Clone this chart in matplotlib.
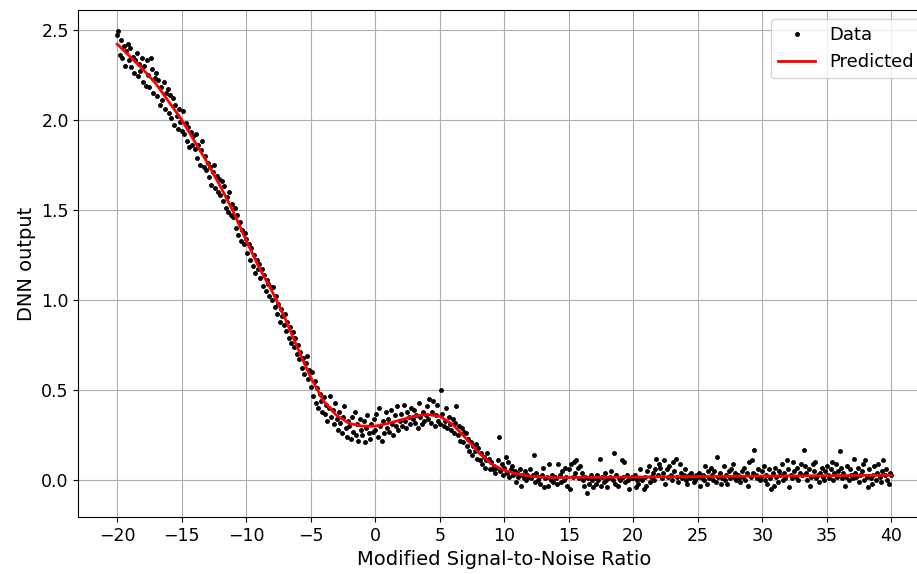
import numpy as np
import matplotlib.pyplot as plt

plt.rcParams['font.size'] = 13
plt.rcParams['xtick.labelsize'] = 12.5
plt.rcParams['ytick.labelsize'] = 12.5
plt.rcParams['axes.labelsize'] = 14

# measured DNN output, one sample every 0.1 dB from -20 to 40
snr = np.linspace(-20, 40, 601)
dnn_out = [
    2.47, 2.49, 2.36, 2.44, 2.34, 2.41, 2.30, 2.38, 2.42, 2.33,
    2.40, 2.29, 2.35, 2.26, 2.33, 2.37, 2.24, 2.31, 2.27, 2.34,
    2.21, 2.30, 2.19, 2.33, 2.25, 2.18, 2.34, 2.28, 2.15, 2.23,
    2.26, 2.13, 2.22, 2.08, 2.18, 2.11, 2.21, 2.06, 2.15, 2.17,
    2.04, 2.14, 2.01, 2.12, 1.97, 2.08, 2.02, 1.95, 2.06, 1.99,
    1.94, 2.05, 1.92, 1.98, 1.88, 1.96, 1.85, 1.93, 1.86, 1.91,
    1.84, 1.92, 1.79, 1.86, 1.75, 1.83, 1.88, 1.74, 1.80, 1.72,
    1.76, 1.68, 1.74, 1.64, 1.71, 1.75, 1.62, 1.69, 1.60, 1.67,
    1.58, 1.66, 1.55, 1.63, 1.51, 1.57, 1.49, 1.60, 1.47, 1.53,
    1.46, 1.51, 1.40, 1.47, 1.36, 1.43, 1.33, 1.39, 1.31, 1.37,
    1.34, 1.26, 1.31, 1.22, 1.29, 1.19, 1.25, 1.15, 1.22, 1.17,
    1.20, 1.12, 1.17, 1.08, 1.14, 1.05, 1.11, 1.09, 1.02, 1.07,
    1.00, 1.07, 0.96, 1.02, 0.92, 0.98, 0.88, 0.95, 0.91, 0.86,
    0.92, 0.83, 0.88, 0.79, 0.85, 0.76, 0.82, 0.74, 0.79, 0.70,
    0.75, 0.67, 0.71, 0.62, 0.68, 0.59, 0.65, 0.69, 0.56, 0.61,
    0.52, 0.60, 0.47, 0.55, 0.43, 0.51, 0.40, 0.48, 0.44, 0.38,
    0.46, 0.37, 0.42, 0.33, 0.40, 0.47, 0.35, 0.39, 0.31, 0.43,
    0.34, 0.28, 0.38, 0.32, 0.26, 0.35, 0.41, 0.29, 0.24, 0.33,
    0.30, 0.23, 0.35, 0.27, 0.38, 0.25, 0.31, 0.22, 0.34, 0.28,
    0.25, 0.33, 0.21, 0.29, 0.36, 0.26, 0.23, 0.31, 0.27, 0.34,
    0.28, 0.37, 0.24, 0.40, 0.30, 0.22, 0.33, 0.26, 0.38, 0.29,
    0.34, 0.27, 0.39, 0.31, 0.25, 0.36, 0.30, 0.41, 0.28, 0.33,
    0.37, 0.30, 0.42, 0.33, 0.29, 0.38, 0.35, 0.31, 0.40, 0.34,
    0.39, 0.32, 0.36, 0.29, 0.43, 0.35, 0.31, 0.38, 0.33, 0.36,
    0.41, 0.34, 0.45, 0.32, 0.38, 0.44, 0.30, 0.36, 0.42, 0.33,
    0.31, 0.50, 0.37, 0.30, 0.33, 0.40, 0.29, 0.35, 0.31, 0.28,
    0.34, 0.26, 0.32, 0.41, 0.25, 0.30, 0.22, 0.29, 0.21, 0.27,
    0.26, 0.19, 0.23, 0.16, 0.21, 0.14, 0.19, 0.16, 0.20, 0.12,
    0.18, 0.11, 0.15, 0.09, 0.13, 0.07, 0.11, 0.15, 0.12, 0.06,
    0.10, 0.06, 0.08, 0.04, 0.07, 0.11, 0.24, 0.05, 0.09, 0.03,
    0.07, 0.13, 0.04, 0.10, 0.02, 0.06, 0.08, 0.03, 0.05, -0.01,
    0.04, 0.02, 0.06, -0.03, 0.03, 0.01, 0.05, 0.00, 0.03, 0.02,
    0.06, 0.01, 0.03, 0.14, -0.01, 0.04, 0.00, 0.02, -0.02, 0.03,
    0.07, -0.04, 0.01, 0.02, -0.03, 0.09, 0.00, 0.03, -0.01, 0.02,
    0.01, -0.02, 0.09, 0.03, -0.01, 0.05, 0.00, 0.07, 0.02, -0.03,
    0.06, -0.05, 0.09, 0.02, 0.10, 0.04, 0.11, 0.07, 0.01, 0.08,
    0.04, 0.00, -0.03, 0.02, -0.07, 0.01, -0.02, 0.03, 0.00, -0.04,
    0.01, -0.02, 0.03, 0.00, 0.12, -0.03, 0.02, -0.01, 0.04, 0.00,
    -0.04, 0.01, 0.02, 0.05, 0.00, 0.15, -0.02, 0.03, -0.03, 0.01,
    0.00, 0.11, 0.02, 0.10, -0.01, 0.03, 0.00, -0.05, 0.01, 0.02,
    0.01, 0.03, -0.04, 0.00, -0.02, 0.06, 0.01, 0.00, -0.05, 0.02,
    -0.03, 0.05, 0.08, -0.01, 0.02, 0.04, 0.00, 0.06, 0.12, 0.03,
    0.09, 0.07, 0.01, 0.04, 0.11, -0.02, 0.06, 0.02, 0.08, 0.03,
    0.00, 0.10, 0.05, 0.12, 0.02, -0.01, 0.09, 0.04, 0.01, 0.03,
    0.06, 0.00, -0.02, 0.03, 0.01, 0.04, 0.02, -0.01, 0.00, 0.03,
    0.02, 0.04, -0.03, 0.01, 0.03, 0.00, 0.08, -0.02, 0.05, 0.01,
    0.07, 0.03, 0.00, 0.05, -0.01, 0.13, 0.02, 0.04, -0.02, 0.01,
    0.08, 0.00, 0.03, -0.02, 0.05, 0.01, 0.06, 0.09, 0.02, 0.04,
    0.00, 0.03, 0.01, -0.01, 0.05, 0.02, 0.07, 0.00, 0.04, -0.03,
    0.10, 0.02, 0.11, 0.04, 0.17, 0.03, 0.01, 0.06, 0.00, 0.02,
    0.05, 0.08, 0.00, 0.03, -0.02, 0.06, 0.01, -0.05, 0.04, -0.03,
    0.07, 0.02, -0.01, 0.05, 0.03, 0.09, 0.00, 0.04, 0.01, 0.11,
    0.06, -0.04, 0.03, 0.01, 0.10, 0.05, 0.02, 0.07, 0.00, 0.04,
    0.09, 0.03, 0.17, 0.08, 0.04, 0.00, 0.06, -0.03, 0.02, 0.09,
    0.05, 0.10, 0.01, 0.03, -0.01, 0.04, 0.07, 0.02, 0.00, 0.05,
    0.08, 0.03, 0.01, 0.06, 0.10, 0.00, 0.04, 0.09, 0.02, 0.05,
    0.16, 0.07, 0.01, 0.04, -0.03, 0.02, 0.08, 0.00, 0.06, 0.03,
    0.01, 0.12, 0.04, 0.02, 0.07, -0.01, 0.03, 0.05, 0.09, 0.00,
    0.11, 0.02, -0.04, 0.06, 0.01, -0.02, 0.03, 0.08, 0.00, 0.04,
    0.09, 0.02, -0.01, 0.05, 0.11, 0.03, 0.06, 0.00, -0.02, 0.04,
    0.03,
]

# model prediction at integer SNR
snr_pred = np.arange(-20, 41)
pred = [
    2.42, 2.35, 2.28, 2.20, 2.10, 2.00, 1.88, 1.76, 1.63, 1.49,
    1.33, 1.18, 1.05, 0.90, 0.73, 0.57, 0.44, 0.36, 0.315, 0.30,
    0.30, 0.315, 0.335, 0.355, 0.365, 0.355, 0.31, 0.235, 0.155, 0.09,
    0.055, 0.035, 0.022, 0.017, 0.015, 0.015, 0.016, 0.016, 0.017, 0.017,
    0.018, 0.018, 0.019, 0.019, 0.020, 0.020, 0.021, 0.021, 0.022, 0.022,
    0.023, 0.023, 0.024, 0.024, 0.025, 0.025, 0.026, 0.026, 0.027, 0.027,
    0.028,
]

fig = plt.figure(figsize=(9.17, 5.74), dpi=100)
ax = fig.add_axes([0.0856, 0.0993, 0.9285, 0.8833])
ax.plot(snr, dnn_out, 'k.', markersize=5, label='Data')
ax.plot(snr_pred, pred, c='red', lw=2, label='Predicted')

ax.set_xlim(-23, 43)
ax.set_ylim(-0.204, 2.609)
ax.set_xticks(np.arange(-20, 41, 5))
ax.set_yticks([0.0, 0.5, 1.0, 1.5, 2.0, 2.5])
ax.set_xlabel('Modified Signal-to-Noise Ratio')
ax.set_ylabel('DNN output')
ax.grid()
ax.legend(loc='upper right')

fig.savefig('out.png', dpi=100)
